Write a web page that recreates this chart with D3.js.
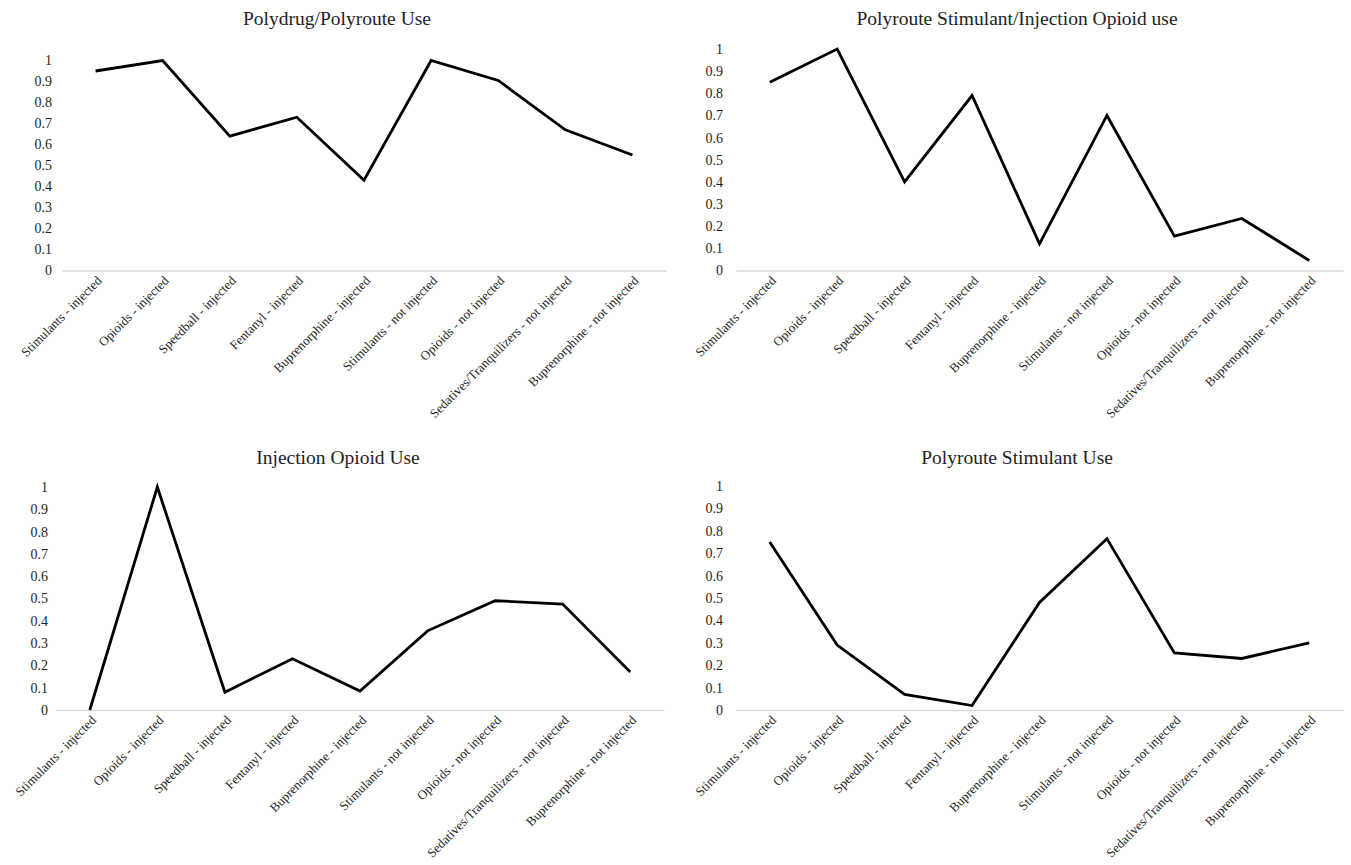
<!DOCTYPE html>
<html>
<head>
<meta charset="utf-8">
<script src="https://cdn.jsdelivr.net/npm/d3@7"></script>
<style>
  html, body { margin: 0; padding: 0; background: #fff; }
  svg { display: block; }
  text { font-family: "Liberation Serif", "Times New Roman", serif; fill: #1e1e24; }
</style>
</head>
<body>
<svg id="chart" width="1351" height="865"></svg>
<script>
// ---- Data ----
const categories = [
  "Stimulants - injected",
  "Opioids - injected",
  "Speedball - injected",
  "Fentanyl - injected",
  "Buprenorphine - injected",
  "Stimulants - not injected",
  "Opioids - not injected",
  "Sedatives/Tranquilizers - not injected",
  "Buprenorphine - not injected"
];
const yTicks = [0, 0.1, 0.2, 0.3, 0.4, 0.5, 0.6, 0.7, 0.8, 0.9, 1];

const titles = [
  "Polydrug/Polyroute Use",
  "Polyroute Stimulant/Injection Opioid use",
  "Injection Opioid Use",
  "Polyroute Stimulant Use"
];
const polydrugPolyroute      = [0.95, 1.00, 0.64, 0.73, 0.43, 1.00, 0.905, 0.67, 0.55];
const stimulantInjectOpioid  = [0.85, 1.00, 0.40, 0.79, 0.12, 0.70, 0.155, 0.235, 0.045];
const injectionOpioid        = [0.00, 1.00, 0.08, 0.23, 0.085, 0.355, 0.49, 0.475, 0.17];
const polyrouteStimulant     = [0.75, 0.29, 0.07, 0.02, 0.48, 0.765, 0.255, 0.23, 0.30];
const seriesList = [polydrugPolyroute, stimulantInjectOpioid, injectionOpioid, polyrouteStimulant];

// ---- Layout (positions only) ----
const panels = [
  { x0: 62,  x1: 666,  yTop: 60.5, yBot: 270.5, titleX: 337,  titleY: 25,  pad: 10 },
  { x0: 736, x1: 1343, yTop: 49,   yBot: 270.5, titleX: 1017, titleY: 25,  pad: 13 },
  { x0: 56,  x1: 664,  yTop: 487,  yBot: 710,   titleX: 338,  titleY: 464, pad: 8 },
  { x0: 736, x1: 1343, yTop: 486,  yBot: 710,   titleX: 1017, titleY: 464, pad: 13 }
];

const svg = d3.select("#chart");

panels.forEach((p, i) => {
  const g = svg.append("g");
  const x = d3.scaleBand().domain(categories).range([p.x0, p.x1]);
  const y = d3.scaleLinear().domain([0, 1]).range([p.yBot, p.yTop]);
  const cx = c => x(c) + x.bandwidth() / 2;

  // title
  g.append("text")
    .attr("x", p.titleX)
    .attr("y", p.titleY)
    .attr("text-anchor", "middle")
    .style("font-size", "19.5px")
    .text(titles[i]);

  // y axis (labels only)
  const yAxis = d3.axisLeft(y).tickValues(yTicks).tickSize(0).tickPadding(p.pad)
    .tickFormat(d3.format("~g"));
  const ya = g.append("g").attr("transform", `translate(${p.x0},0)`).call(yAxis);
  ya.select(".domain").remove();
  ya.selectAll("text")
    .style("font-size", "14px")
    .style("font-family", "Liberation Serif, serif")
    .attr("fill", "#1e1e24");

  // x axis baseline
  const xAxis = d3.axisBottom(x).tickSize(0).tickFormat("");
  const xa = g.append("g").attr("transform", `translate(0,${p.yBot})`).call(xAxis);
  xa.select(".domain").attr("stroke", "#d9d9d9").attr("stroke-width", 1.5);

  // category labels rotated
  g.selectAll(".cat")
    .data(categories)
    .join("text")
    .attr("class", "cat")
    .attr("text-anchor", "end")
    .attr("transform", d => `translate(${cx(d) + 7},${p.yBot + 11}) rotate(-45)`)
    .style("font-size", "13px")
    .text(d => d);

  // line
  const data = categories.map((c, k) => ({ c, v: seriesList[i][k] }));
  const line = d3.line().x(d => cx(d.c)).y(d => y(d.v));
  g.append("path")
    .datum(data)
    .attr("fill", "none")
    .attr("stroke", "#000")
    .attr("stroke-width", 2.8)
    .attr("stroke-linejoin", "miter")
    .attr("d", line);
});
</script>
</body>
</html>
